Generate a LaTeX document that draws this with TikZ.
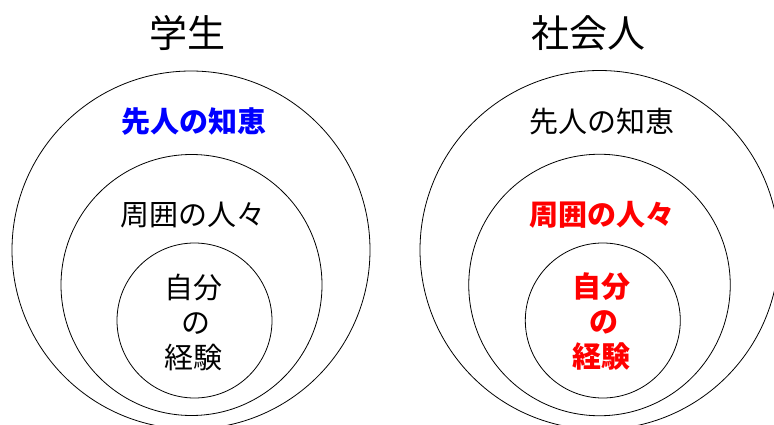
\documentclass[tikz,border=0pt]{standalone}
\usepackage{fontspec}
\newfontfamily\jp{Noto Sans CJK JP}
\definecolor{kblue}{RGB}{0,0,255}
\definecolor{kred}{RGB}{255,0,0}
\tikzset{
  ring/.style={circle,draw=black,line width=0.8pt,inner sep=0pt},
  lbl/.style={font=\jp\fontsize{29}{35}\selectfont,inner sep=0pt,align=center},
  ttl/.style={font=\jp\fontsize{38}{40}\selectfont,inner sep=0pt},
  hiblue/.style={text=kblue,font=\jp\bfseries\fontsize{29}{35}\selectfont},
  hired/.style={text=kred,font=\jp\bfseries\fontsize{29}{35}\selectfont}
}
\begin{document}
\begin{tikzpicture}[x=1pt,y=-1pt]
\useasboundingbox (0,0) rectangle (774,425);
\fill[white] (0,0) rectangle (774,425);
\begin{scope}
\clip (0,0) rectangle (774,425);
% left group
\node[ring,minimum size=358pt] (Lo) at (191,250) {};
\node[ring,minimum size=261pt] (Lm) at (191.5,285) {};
\node[ring,minimum size=155pt] (Li) at (194.5,320.5) {};
% right group
\node[ring,minimum size=359pt] (Ro) at (599.5,250) {};
\node[ring,minimum size=261.5pt] (Rm) at (599.5,285) {};
\node[ring,minimum size=155pt] (Ri) at (602.8,320.5) {};
\end{scope}
% titles
\node[ttl] (Lt) at (187,33) {学生};
\node[ttl] (Rt) at (588.5,33) {社会人};
% labels left
\node[lbl,hiblue] (La) at (193.7,122) {先人の知恵};
\node[lbl] (Lb) at (193,215) {周囲の人々};
\node[lbl] (Lc) at (193,322) {自分\\\hspace*{6pt}の\\経験};
% labels right
\node[lbl] (Ra) at (602,122) {先人の知恵};
\node[lbl,hired] (Rb) at (602,215) {周囲の人々};
\node[lbl,hired] (Rc) at (601,322) {自分\\\hspace*{6pt}の\\経験};
\end{tikzpicture}
\end{document}
